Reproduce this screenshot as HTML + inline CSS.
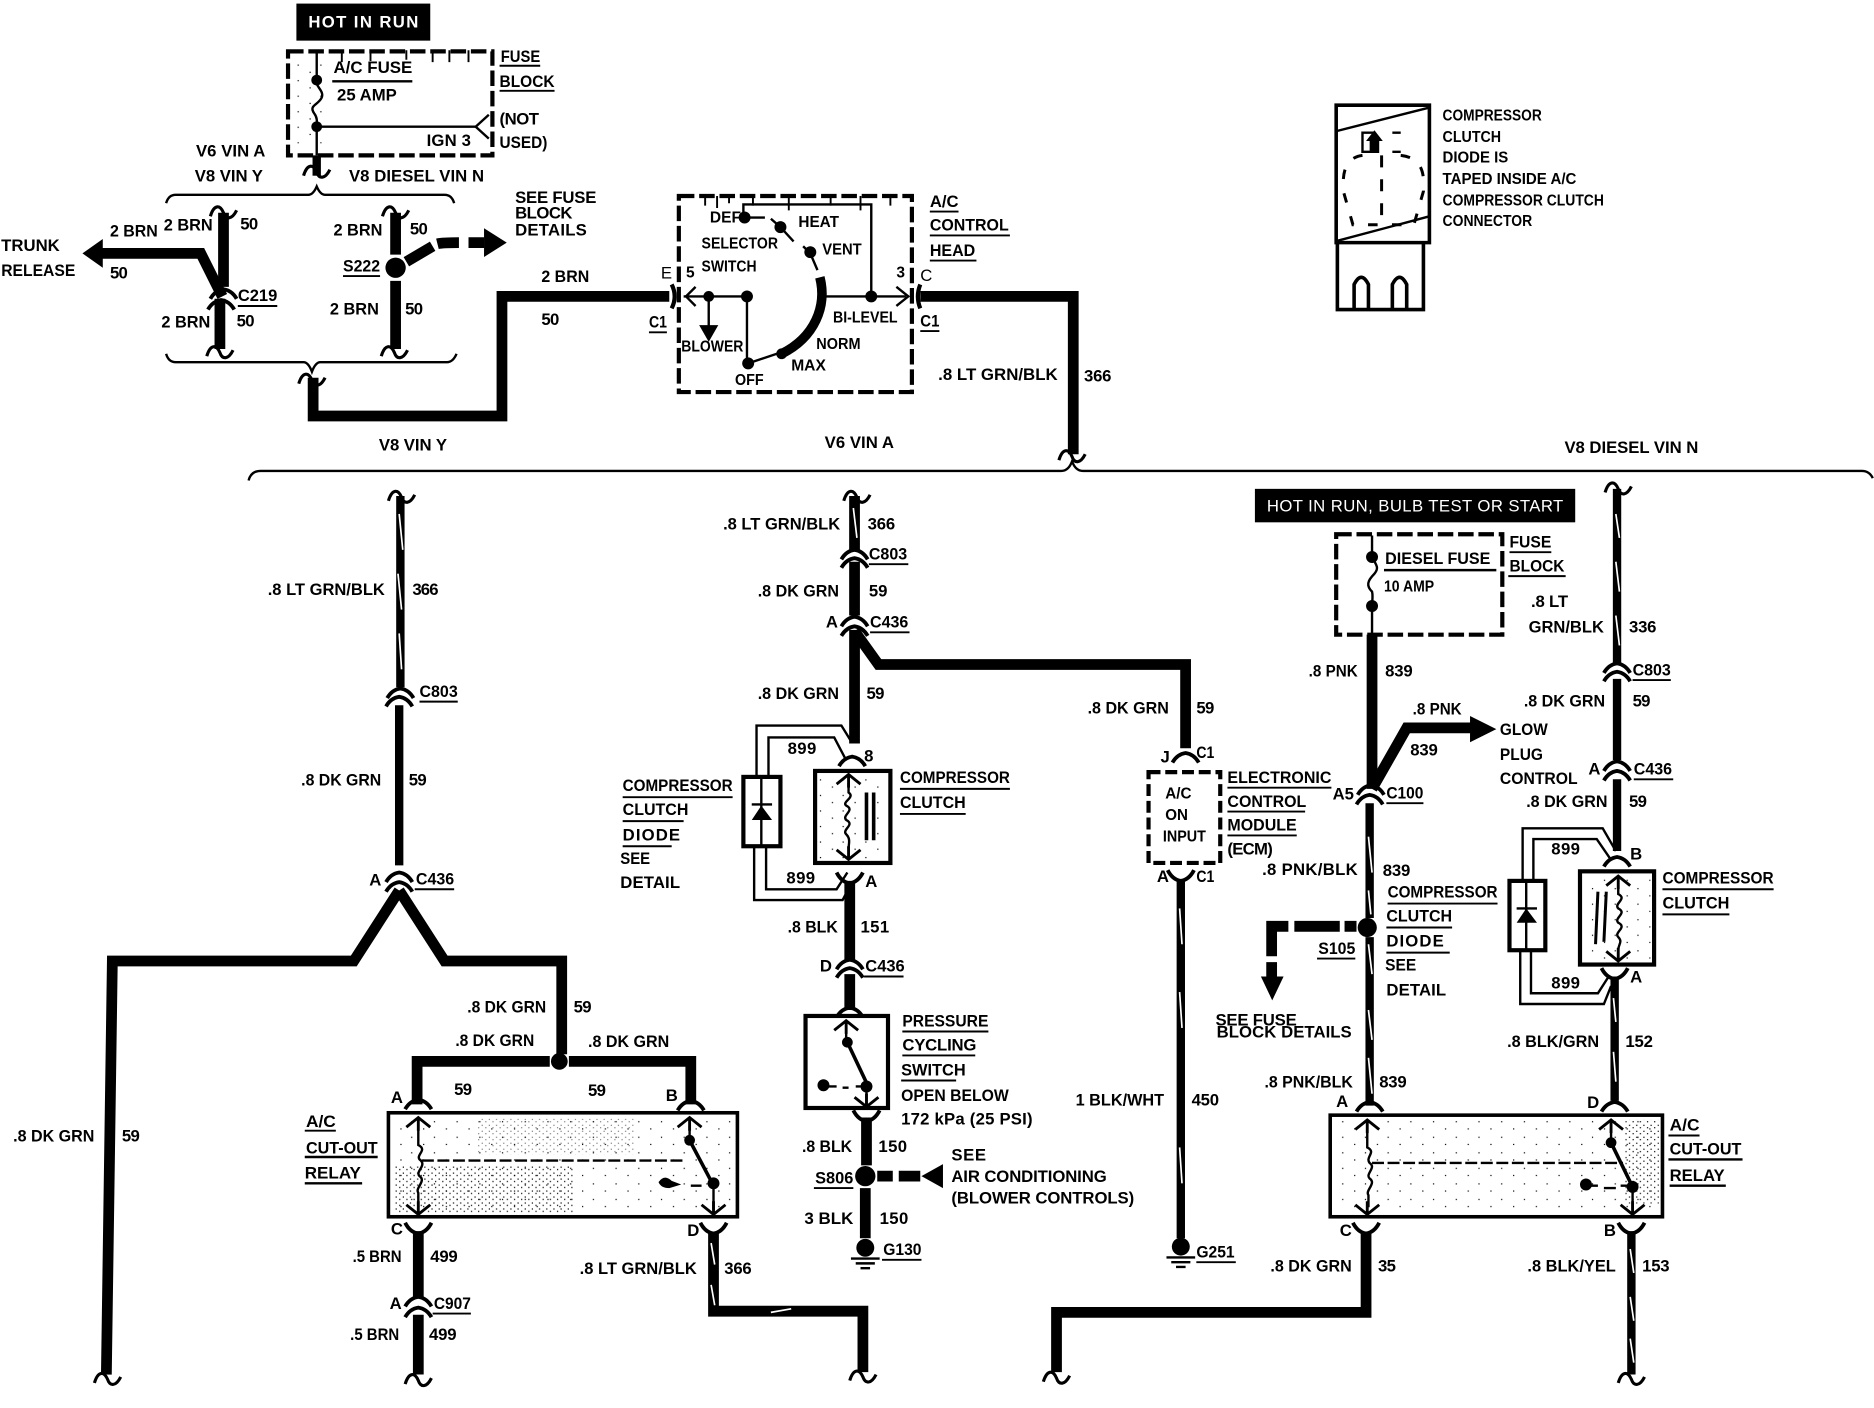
<!DOCTYPE html>
<html><head><meta charset="utf-8"><title>A/C wiring diagram</title>
<style>
html,body{margin:0;padding:0;background:#fff}
svg{display:block}
text{font-family:"Liberation Sans",sans-serif;font-weight:bold;font-size:14px;fill:#000;stroke:none}
.s{font-size:13px}
.wt{fill:#fff}
.r{font-weight:normal}
path,line,rect,circle,polyline{stroke:#000;fill:none}
.w{stroke-width:9}
.m{stroke-width:7}
.t{stroke-width:2}
.u{stroke-width:1.6}
.d{stroke-width:3.5;stroke-dasharray:13 4}
.f{fill:#000;stroke:none}
.st{stroke:#fff;stroke-width:1.4}
</style></head><body>
<svg width="1874" height="1408" viewBox="0 0 1568 1178" preserveAspectRatio="none" xmlns="http://www.w3.org/2000/svg">
<defs>
<path id="ar" d="M-11,5 Q-7,-2 0,-3 Q7,-2 11,5" stroke-width="3.2"/>
<path id="ad" d="M-11,-6 Q-7,2 0,3 Q7,2 11,-6" stroke-width="3.2"/>
<path id="br" d="M-11,5 C-8,-5 -3,-5 0,2 C2,8 7,8 11,0" stroke-width="2.6"/>
<path id="ua" d="M-10,7 L0,-1 L10,7 M0,-1 L0,10" stroke-width="2.4"/>
<path id="da" d="M-10,-7 L0,1 L10,-7 M0,1 L0,-10" stroke-width="2.4"/>
<pattern id="sp" width="19" height="13" patternUnits="userSpaceOnUse"><rect x="2" y="2" width="1" height="1" class="f"/><rect x="12" y="8" width="1" height="1" class="f"/></pattern>
<pattern id="sp2" width="6" height="5" patternUnits="userSpaceOnUse"><rect x="1" y="1" width="1" height="1" class="f"/><rect x="4" y="3" width="1" height="1" class="f"/></pattern>
</defs>

<!-- HOT IN RUN -->
<rect x="248" y="3" width="112" height="31" class="f"/>
<text x="258" y="23" class="wt" textLength="92">HOT IN RUN</text>

<!-- top fuse block -->
<rect x="241" y="43" width="171" height="87" class="d"/>
<path class="u" d="M286,42v10M310,42v9M340,42v8M362,42v10M376,42v10M392,42v10"/>
<path class="t" d="M265,43V67M265,106V130M265,106H398"/>
<path class="t" d="M265,67C263,72 272,76 269,82C266,88 258,88 263,95C266,99 265,103 265,106"/>
<circle cx="265" cy="67" r="4.5" class="f"/><circle cx="265" cy="106" r="4.5" class="f"/>
<path class="t" d="M409,96L398,106L409,116"/>
<rect x="245" y="50" width="30" height="70" style="stroke:none;fill:url(#sp)"/>
<text x="279" y="61" textLength="66" lengthAdjust="spacingAndGlyphs">A/C FUSE</text>
<line x1="278" y1="68" x2="345" y2="68" class="t"/>
<text x="282" y="84" textLength="50" lengthAdjust="spacingAndGlyphs">25 AMP</text>
<text x="357" y="122" textLength="37">IGN 3</text>
<text x="419" y="52" textLength="33" lengthAdjust="spacingAndGlyphs">FUSE</text><line x1="418" y1="55" x2="452" y2="55" class="u"/>
<text x="418" y="73" textLength="46" lengthAdjust="spacingAndGlyphs">BLOCK</text><line x1="418" y1="76" x2="464" y2="76" class="u"/>
<text x="418" y="104" textLength="33">(NOT</text>
<text x="418" y="124" textLength="40" lengthAdjust="spacingAndGlyphs">USED)</text>
<path class="m" d="M265,130V147"/>
<use href="#br" x="265" y="142" stroke="#000" fill="none"/>
<text x="164" y="131" textLength="58">V6 VIN A</text>
<text x="163" y="152" textLength="57">V8 VIN Y</text>
<text x="292" y="152" textLength="113">V8 DIESEL VIN N</text>

<!-- upper brace -->
<path class="t" d="M139,170Q141,163 147,163H258Q262,163 265,156Q268,163 272,163H372Q378,163 380,170"/>
<!-- lower brace -->
<path class="t" d="M139,296Q141,303 147,303H254Q258,303 261,311Q264,303 268,303H374Q379,303 382,296"/>

<!-- trunk release -->
<path class="w" d="M187,178V240"/>
<use href="#br" x="187" y="176" stroke="#000" fill="none"/>
<path class="w" d="M84,212H168L186,248"/>
<path class="f" d="M69,212L86,200V224Z"/>
<use href="#ar" x="187" y="245" stroke="#000" fill="none"/>
<use href="#ar" x="185" y="254" stroke="#000" fill="none"/>
<path class="w" d="M184,250V292"/>
<use href="#br" x="184" y="293" stroke="#000" fill="none"/>
<text x="92" y="198" textLength="40" lengthAdjust="spacingAndGlyphs">2 BRN</text>
<text x="137" y="193" textLength="41" lengthAdjust="spacingAndGlyphs">2 BRN</text>
<text x="201" y="192" textLength="15">50</text>
<text x="1" y="210" textLength="49" lengthAdjust="spacingAndGlyphs">TRUNK</text>
<text x="1" y="231" textLength="62" lengthAdjust="spacingAndGlyphs">RELEASE</text>
<text x="92" y="233" textLength="15">50</text>
<text x="199" y="252" textLength="33" lengthAdjust="spacingAndGlyphs">C219</text><line x1="199" y1="256" x2="232" y2="256" class="u"/>
<text x="198" y="273" textLength="15">50</text>
<text x="135" y="274" textLength="41" lengthAdjust="spacingAndGlyphs">2 BRN</text>

<!-- S222 -->
<path class="w" d="M331,178V213M331,235V292"/>
<use href="#br" x="331" y="176" stroke="#000" fill="none"/>
<use href="#br" x="330" y="293" stroke="#000" fill="none"/>
<circle cx="331" cy="224" r="8.5" class="f"/>
<path class="w" d="M340,219L362,206M366,204Q370,203 384,203M392,203H405"/>
<path class="f" d="M424,203L405,191V215Z"/>
<text x="279" y="197" textLength="41" lengthAdjust="spacingAndGlyphs">2 BRN</text>
<text x="343" y="196" textLength="15">50</text>
<text x="287" y="227" textLength="31" lengthAdjust="spacingAndGlyphs">S222</text><line x1="287" y1="231" x2="318" y2="231" class="u"/>
<text x="276" y="263" textLength="41" lengthAdjust="spacingAndGlyphs">2 BRN</text>
<text x="339" y="263" textLength="15">50</text>
<text x="431" y="170" textLength="68">SEE FUSE</text>
<text x="431" y="183" textLength="48">BLOCK</text>
<text x="431" y="197" textLength="60">DETAILS</text>

<!-- wire to control head -->
<use href="#br" x="261" y="316" stroke="#000" fill="none"/>
<path class="w" d="M262,316V348H420V248H560"/>
<text x="453" y="236" textLength="40" lengthAdjust="spacingAndGlyphs">2 BRN</text>
<text x="453" y="272" textLength="15">50</text>
<text x="317" y="377" textLength="57">V8 VIN Y</text>

<!-- control head -->
<rect x="568" y="164" width="195" height="164" class="d"/>
<path class="u" d="M590,164v8M600,164v10M610,164v6M630,164v8M660,164v12M695,164v8M720,164v12M745,164v8"/>
<path d="M562,238Q567,248 562,258" stroke-width="3.5"/>
<path d="M770,238Q766,248 770,258" stroke-width="3.5"/>
<path class="t" d="M572,248H625M593,248V278M625,248V304M689,248H758M622,182V171H729V248"/>
<path class="t" d="M582,240L574,248L582,256M750,240L760,248L750,256"/>
<path class="f" d="M593,286L585,272H601Z"/>
<circle cx="593" cy="248" r="4.5" class="f"/><circle cx="625" cy="248" r="5" class="f"/><circle cx="729" cy="248" r="5" class="f"/>
<circle cx="626" cy="304" r="5" class="f"/>
<path class="t" d="M626,304L650,296M623,182H640M645,183L653,190L664,202M672,206L678,212L684,226"/>
<circle cx="623" cy="182" r="5" class="f"/><circle cx="653" cy="190" r="5" class="f"/><circle cx="678" cy="211" r="5" class="f"/>
<path d="M686,232C692,256 682,282 654,296" stroke-width="8"/>
<circle cx="654" cy="296" r="4.5" class="f"/>
<text x="594" y="186" textLength="26" class="s" lengthAdjust="spacingAndGlyphs">DEF</text>
<text x="668" y="190" textLength="34" class="s" lengthAdjust="spacingAndGlyphs">HEAT</text>
<text x="587" y="208" textLength="64" class="s" lengthAdjust="spacingAndGlyphs">SELECTOR</text>
<text x="587" y="227" textLength="46" class="s" lengthAdjust="spacingAndGlyphs">SWITCH</text>
<text x="688" y="213" textLength="33" class="s" lengthAdjust="spacingAndGlyphs">VENT</text>
<text x="697" y="270" textLength="54" class="s" lengthAdjust="spacingAndGlyphs">BI-LEVEL</text>
<text x="683" y="292" textLength="37" class="s" lengthAdjust="spacingAndGlyphs">NORM</text>
<text x="662" y="310" textLength="29" class="s" lengthAdjust="spacingAndGlyphs">MAX</text>
<text x="615" y="322" textLength="24" class="s" lengthAdjust="spacingAndGlyphs">OFF</text>
<text x="570" y="294" textLength="52" class="s" lengthAdjust="spacingAndGlyphs">BLOWER</text>
<text x="553" y="233" class="r">E</text><text x="574" y="232" class="s">5</text>
<text x="750" y="232" class="s">3</text><text x="770" y="235" class="r">C</text>
<text x="543" y="274" textLength="15" lengthAdjust="spacingAndGlyphs">C1</text><line x1="543" y1="278" x2="558" y2="278" class="u"/>
<text x="770" y="273" textLength="16" lengthAdjust="spacingAndGlyphs">C1</text><line x1="770" y1="277" x2="786" y2="277" class="u"/>
<text x="778" y="173" textLength="24" lengthAdjust="spacingAndGlyphs">A/C</text><line x1="778" y1="177" x2="802" y2="177" class="u"/>
<text x="778" y="193" textLength="66" lengthAdjust="spacingAndGlyphs">CONTROL</text><line x1="778" y1="197" x2="845" y2="197" class="u"/>
<text x="778" y="214" textLength="38" lengthAdjust="spacingAndGlyphs">HEAD</text><line x1="778" y1="218" x2="817" y2="218" class="u"/>
<path class="w" d="M770,248H898V380"/>
<use href="#br" x="897" y="380" stroke="#000" fill="none"/>
<text x="785" y="318" textLength="100" lengthAdjust="spacingAndGlyphs">.8 LT GRN/BLK</text>
<text x="907" y="319" textLength="23">366</text>
<text x="690" y="375" textLength="58">V6 VIN A</text>
<text x="1309" y="379" textLength="112">V8 DIESEL VIN N</text>

<!-- long brace -->
<path class="t" d="M208,402Q210,394 218,394H888Q894,394 897,386Q900,394 906,394H1558Q1564,394 1567,400"/>

<!-- Column 1 -->
<use href="#br" x="336" y="414" stroke="#000" fill="none"/>
<path class="m" d="M335,415V575M334,590V724"/>
<path class="st" d="M334,430L337,460M333,480L336,510M334,530L336,560"/>
<use href="#ar" x="335" y="579" stroke="#000" fill="none"/>
<use href="#ar" x="334" y="586" stroke="#000" fill="none"/>
<use href="#ar" x="334" y="733" stroke="#000" fill="none"/>
<use href="#ar" x="334" y="741" stroke="#000" fill="none"/>
<path class="w" d="M334,745L296,804H94L89,1150"/>
<path class="w" d="M334,745L372,804H470V882"/>
<use href="#br" x="90" y="1152" stroke="#000" fill="none"/>
<text x="224" y="498" textLength="98" lengthAdjust="spacingAndGlyphs">.8 LT GRN/BLK</text>
<text x="345" y="498" textLength="22">366</text>
<text x="351" y="583" textLength="32" lengthAdjust="spacingAndGlyphs">C803</text><line x1="351" y1="587" x2="383" y2="587" class="u"/>
<text x="252" y="657" textLength="67" lengthAdjust="spacingAndGlyphs">.8 DK GRN</text>
<text x="342" y="657" textLength="15">59</text>
<text x="309" y="741">A</text>
<text x="348" y="740" textLength="32" lengthAdjust="spacingAndGlyphs">C436</text><line x1="347" y1="744" x2="380" y2="744" class="u"/>
<text x="11" y="955" textLength="68" lengthAdjust="spacingAndGlyphs">.8 DK GRN</text>
<text x="102" y="955" textLength="15">59</text>
<text x="391" y="847" textLength="66" lengthAdjust="spacingAndGlyphs">.8 DK GRN</text>
<text x="480" y="847" textLength="15">59</text>
<text x="381" y="875" textLength="66" lengthAdjust="spacingAndGlyphs">.8 DK GRN</text>
<text x="492" y="876" textLength="68" lengthAdjust="spacingAndGlyphs">.8 DK GRN</text>
<text x="380" y="916" textLength="15">59</text>
<text x="492" y="917" textLength="15">59</text>
<text x="327" y="923">A</text><text x="557" y="921">B</text>

<!-- left relay -->
<path class="w" d="M349,924V888H460M476,888H578V924"/>
<circle cx="468" cy="888" r="7" class="f"/>
<use href="#ar" x="350" y="923" stroke="#000" fill="none"/>
<use href="#ar" x="578" y="924" stroke="#000" fill="none"/>
<rect x="325" y="931" width="292" height="87" stroke-width="3"/>
<rect x="328" y="934" width="286" height="81" style="stroke:none;fill:url(#sp)"/>
<rect x="330" y="975" width="150" height="40" style="stroke:none;fill:url(#sp2)"/>
<rect x="400" y="936" width="130" height="30" style="stroke:none;fill:url(#sp2);opacity:.5"/>
<use href="#ua" x="350" y="936" stroke="#000" fill="none"/>
<use href="#da" x="350" y="1015" stroke="#000" fill="none"/>
<path class="t" d="M350,942V958C358,962 348,966 351,970C358,975 347,980 351,984C357,988 347,994 350,998V1010"/>
<path class="t" stroke-dasharray="10 3" d="M353,971H574"/>
<use href="#ua" x="577" y="936" stroke="#000" fill="none"/>
<path class="t" d="M577,942V954M597,990V1012"/>
<path stroke-width="3" d="M577,954L596,990"/>
<circle cx="577" cy="954" r="4.5" class="f"/><circle cx="597" cy="990" r="5" class="f"/>
<path class="f" d="M551,989Q556,982 562,988L570,991L560,994Q553,994 551,989Z"/>
<path class="t" d="M578,992H587"/>
<use href="#da" x="597" y="1015" stroke="#000" fill="none"/>
<text x="256" y="943" textLength="25" lengthAdjust="spacingAndGlyphs">A/C</text><line x1="255" y1="946" x2="281" y2="946" class="u"/>
<text x="256" y="965" textLength="60" lengthAdjust="spacingAndGlyphs">CUT-OUT</text><line x1="255" y1="968" x2="316" y2="968" class="t"/>
<text x="255" y="986" textLength="47" lengthAdjust="spacingAndGlyphs">RELAY</text><line x1="255" y1="990" x2="303" y2="990" class="t"/>
<use href="#ad" x="350" y="1029" stroke="#000" fill="none"/>
<use href="#ad" x="597" y="1029" stroke="#000" fill="none"/>
<text x="327" y="1033">C</text><text x="575" y="1034">D</text>
<path class="w" d="M350,1030V1086M350,1100V1150"/>
<use href="#ar" x="350" y="1088" stroke="#000" fill="none"/>
<use href="#ar" x="350" y="1097" stroke="#000" fill="none"/>
<use href="#br" x="350" y="1153" stroke="#000" fill="none"/>
<text x="295" y="1056" textLength="41" lengthAdjust="spacingAndGlyphs">.5 BRN</text><text x="360" y="1056" textLength="23">499</text>
<text x="326" y="1095">A</text>
<text x="363" y="1095" textLength="31" lengthAdjust="spacingAndGlyphs">C907</text><line x1="362" y1="1099" x2="394" y2="1099" class="u"/>
<text x="293" y="1121" textLength="41" lengthAdjust="spacingAndGlyphs">.5 BRN</text><text x="359" y="1121" textLength="23">499</text>
<path class="w" d="M597,1032V1097H722V1148"/>
<use href="#br" x="722" y="1150" stroke="#000" fill="none"/>
<path class="st" d="M595,1040L598,1058M595,1075L598,1092M645,1098L662,1095"/>
<text x="485" y="1066" textLength="98" lengthAdjust="spacingAndGlyphs">.8 LT GRN/BLK</text><text x="606" y="1066" textLength="23">366</text>

<!-- Column 2 -->
<use href="#br" x="717" y="414" stroke="#000" fill="none"/>
<path class="w" d="M715,415V460M715,470V515M715,527V622"/>
<path class="w" d="M715,528L735,556H992V626"/>
<path class="st" d="M714,425L717,450"/>
<use href="#ar" x="715" y="463" stroke="#000" fill="none"/>
<use href="#ar" x="715" y="470" stroke="#000" fill="none"/>
<use href="#ar" x="715" y="519" stroke="#000" fill="none"/>
<use href="#ar" x="715" y="527" stroke="#000" fill="none"/>
<text x="605" y="443" textLength="98" lengthAdjust="spacingAndGlyphs">.8 LT GRN/BLK</text><text x="726" y="443" textLength="23">366</text>
<text x="727" y="468" textLength="32" lengthAdjust="spacingAndGlyphs">C803</text><line x1="727" y1="472" x2="760" y2="472" class="u"/>
<text x="634" y="499" textLength="68" lengthAdjust="spacingAndGlyphs">.8 DK GRN</text><text x="727" y="499">59</text>
<text x="691" y="525">A</text>
<text x="728" y="525" textLength="32" lengthAdjust="spacingAndGlyphs">C436</text><line x1="728" y1="529" x2="761" y2="529" class="u"/>
<text x="634" y="585" textLength="68" lengthAdjust="spacingAndGlyphs">.8 DK GRN</text><text x="725" y="585" textLength="15">59</text>

<!-- diode + clutch 1 -->
<path class="t" d="M633,650V607H704L712,620"/>
<path class="t" d="M643,650V617H698L708,636"/>
<path class="t" d="M631,708V753H705L712,740"/>
<path class="t" d="M641,708V744H700L709,730"/>
<rect x="622" y="650" width="31" height="58" stroke-width="3.5"/>
<path class="t" d="M637,650V708"/><path class="t" d="M629,673H646"/>
<path class="f" d="M637,674L629,686H646Z"/>
<use href="#ar" x="713" y="636" stroke="#000" fill="none"/>
<rect x="682" y="645" width="63" height="77" stroke-width="3.5"/>
<rect x="685" y="648" width="57" height="71" style="stroke:none;fill:url(#sp)"/>
<use href="#ua" x="710" y="649" stroke="#000" fill="none"/>
<use href="#da" x="710" y="718" stroke="#000" fill="none"/>
<path class="t" d="M710,655V663C716,667 704,671 708,674C716,678 704,682 708,686C716,690 704,694 708,698C712,702 710,706 710,710"/>
<path d="M725,663V703M731,663V703" stroke-width="3"/>
<use href="#ad" x="711" y="736" stroke="#000" fill="none"/>
<path class="w" d="M711,737V803M711,815V845"/>
<use href="#ar" x="711" y="806" stroke="#000" fill="none"/>
<use href="#ar" x="711" y="813" stroke="#000" fill="none"/>
<use href="#ar" x="711" y="846" stroke="#000" fill="none"/>
<text x="659" y="631" textLength="24">899</text><text x="658" y="739" textLength="24">899</text>
<text x="723" y="637">8</text><text x="724" y="742">A</text>
<text x="521" y="662" textLength="92" lengthAdjust="spacingAndGlyphs">COMPRESSOR</text><line x1="521" y1="667" x2="613" y2="667" class="u"/>
<text x="521" y="682" textLength="55" lengthAdjust="spacingAndGlyphs">CLUTCH</text><line x1="521" y1="687" x2="572" y2="687" class="u"/>
<text x="521" y="703" textLength="48">DIODE</text><line x1="521" y1="708" x2="562" y2="708" class="u"/>
<text x="519" y="723" textLength="25" lengthAdjust="spacingAndGlyphs">SEE</text>
<text x="519" y="743" textLength="50">DETAIL</text>
<text x="753" y="655" textLength="92" lengthAdjust="spacingAndGlyphs">COMPRESSOR</text><line x1="753" y1="660" x2="845" y2="660" class="u"/>
<text x="753" y="676" textLength="55" lengthAdjust="spacingAndGlyphs">CLUTCH</text><line x1="753" y1="681" x2="808" y2="681" class="u"/>
<text x="659" y="780" textLength="42" lengthAdjust="spacingAndGlyphs">.8 BLK</text><text x="720" y="780" textLength="24">151</text>
<text x="686" y="813">D</text>
<text x="724" y="813" textLength="33" lengthAdjust="spacingAndGlyphs">C436</text><line x1="723" y1="817" x2="756" y2="817" class="u"/>

<!-- pressure switch -->
<rect x="674" y="850" width="69" height="77" stroke-width="3.5"/>
<use href="#ua" x="708" y="855" stroke="#000" fill="none"/>
<path class="t" d="M708,860V872" /><path stroke-width="3" d="M709,872L726,908"/>
<circle cx="709" cy="872" r="4.5" class="f"/><circle cx="725" cy="909" r="5" class="f"/><circle cx="689" cy="908" r="5" class="f"/>
<path class="t" d="M693,909H700M705,910H710M716,909H722M725,912V924"/>
<use href="#da" x="725" y="925" stroke="#000" fill="none"/>
<use href="#ad" x="725" y="935" stroke="#000" fill="none"/>
<path class="w" d="M725,935V975M724,994V1036"/>
<circle cx="724" cy="984" r="8.5" class="f"/>
<path class="w" d="M734,984H747M752,984H770"/>
<path class="f" d="M771,984L789,974V994Z"/>
<circle cx="724" cy="1044" r="7.5" class="f"/>
<path class="t" d="M712,1053H736M716,1057H732M720,1061H728"/>
<text x="755" y="859" textLength="72" lengthAdjust="spacingAndGlyphs">PRESSURE</text><line x1="755" y1="863" x2="827" y2="863" class="u"/>
<text x="755" y="879" textLength="62">CYCLING</text><line x1="755" y1="883" x2="816" y2="883" class="u"/>
<text x="754" y="900" textLength="54" lengthAdjust="spacingAndGlyphs">SWITCH</text><line x1="754" y1="904" x2="800" y2="904" class="u"/>
<text x="754" y="921" textLength="90" lengthAdjust="spacingAndGlyphs">OPEN BELOW</text>
<text x="754" y="941" textLength="110">172 kPa (25 PSI)</text>
<text x="671" y="964" textLength="42" lengthAdjust="spacingAndGlyphs">.8 BLK</text><text x="735" y="964" textLength="24">150</text>
<text x="682" y="990" textLength="32" lengthAdjust="spacingAndGlyphs">S806</text><line x1="681" y1="994" x2="714" y2="994" class="u"/>
<text x="673" y="1024" textLength="41" lengthAdjust="spacingAndGlyphs">3 BLK</text><text x="736" y="1024" textLength="24">150</text>
<text x="739" y="1050" textLength="32" lengthAdjust="spacingAndGlyphs">G130</text><line x1="738" y1="1054" x2="771" y2="1054" class="u"/>
<text x="796" y="971" textLength="29">SEE</text>
<text x="796" y="989" textLength="130">AIR CONDITIONING</text>
<text x="796" y="1007" textLength="153">(BLOWER CONTROLS)</text>

<!-- ECM -->
<use href="#ar" x="992" y="633" stroke="#000" fill="none"/>
<text x="910" y="597" textLength="68" lengthAdjust="spacingAndGlyphs">.8 DK GRN</text><text x="1001" y="597" textLength="15">59</text>
<rect x="961" y="646" width="60" height="76" stroke-width="3.5" stroke-dasharray="10 4"/>
<text x="971" y="638">J</text><text x="1001" y="634" textLength="15" lengthAdjust="spacingAndGlyphs">C1</text>
<text x="975" y="668" class="s" textLength="22" lengthAdjust="spacingAndGlyphs">A/C</text>
<text x="975" y="686" class="s" textLength="19" lengthAdjust="spacingAndGlyphs">ON</text>
<text x="973" y="704" class="s" textLength="36" lengthAdjust="spacingAndGlyphs">INPUT</text>
<text x="1027" y="655" textLength="87" lengthAdjust="spacingAndGlyphs">ELECTRONIC</text><line x1="1027" y1="659" x2="1114" y2="659" class="u"/>
<text x="1027" y="675" textLength="66" lengthAdjust="spacingAndGlyphs">CONTROL</text><line x1="1027" y1="679" x2="1092" y2="679" class="u"/>
<text x="1027" y="695" textLength="58" lengthAdjust="spacingAndGlyphs">MODULE</text><line x1="1027" y1="699" x2="1085" y2="699" class="u"/>
<text x="1027" y="715" textLength="38">(ECM)</text>
<text x="968" y="738">A</text><text x="1001" y="738" textLength="15" lengthAdjust="spacingAndGlyphs">C1</text>
<use href="#ad" x="988" y="734" stroke="#000" fill="none"/>
<path class="m" d="M988,736V1036"/>
<path class="st" d="M987,760L989,790M987,830L989,860M987,960L989,990"/>
<circle cx="988" cy="1043" r="7.5" class="f"/>
<path class="t" d="M976,1052H1000M980,1056H996M984,1060H992"/>
<text x="900" y="925" textLength="74" lengthAdjust="spacingAndGlyphs">1 BLK/WHT</text><text x="997" y="925" textLength="23">450</text>
<text x="1001" y="1052" textLength="32" lengthAdjust="spacingAndGlyphs">G251</text><line x1="1001" y1="1056" x2="1034" y2="1056" class="u"/>

<!-- Bottom wire -->
<path class="w" d="M884,1148V1098H1143V1032"/>
<use href="#br" x="884" y="1151" stroke="#000" fill="none"/>

<!-- right section black box -->
<rect x="1050" y="409" width="268" height="28" class="f"/>
<text x="1060" y="428" class="wt r" textLength="248">HOT IN RUN, BULB TEST OR START</text>
<rect x="1118" y="447" width="139" height="84" class="d"/>
<path class="t" d="M1148,448V465M1148,507V531M1148,465C1150,472 1155,474 1150,480C1144,486 1143,490 1148,495C1149,499 1148,503 1148,507"/>
<circle cx="1148" cy="466" r="5" class="f"/><circle cx="1148" cy="507" r="5" class="f"/>
<text x="1159" y="472" textLength="88" lengthAdjust="spacingAndGlyphs">DIESEL FUSE</text><line x1="1158" y1="477" x2="1252" y2="477" class="t"/>
<text x="1158" y="495" class="s" textLength="42" lengthAdjust="spacingAndGlyphs">10 AMP</text>
<text x="1263" y="458" textLength="35" lengthAdjust="spacingAndGlyphs">FUSE</text><line x1="1263" y1="462" x2="1298" y2="462" class="u"/>
<text x="1263" y="478" textLength="46" lengthAdjust="spacingAndGlyphs">BLOCK</text><line x1="1262" y1="482" x2="1310" y2="482" class="u"/>
<path class="w" d="M1148,531V660"/>
<path class="w" d="M1148,660L1177,609H1232"/>
<path class="f" d="M1252,610L1230,599V621Z"/>
<text x="1095" y="566" textLength="41" lengthAdjust="spacingAndGlyphs">.8 PNK</text><text x="1159" y="566" textLength="23">839</text>
<text x="1182" y="598" textLength="41" lengthAdjust="spacingAndGlyphs">.8 PNK</text><text x="1180" y="632" textLength="23">839</text>
<text x="1255" y="615" textLength="40" lengthAdjust="spacingAndGlyphs">GLOW</text><text x="1255" y="636" textLength="36" lengthAdjust="spacingAndGlyphs">PLUG</text><text x="1255" y="656" textLength="65" lengthAdjust="spacingAndGlyphs">CONTROL</text>
<use href="#ar" x="1147" y="660" stroke="#000" fill="none"/>
<use href="#ar" x="1146" y="668" stroke="#000" fill="none"/>
<text x="1115" y="669">A5</text>
<text x="1160" y="668" textLength="31" lengthAdjust="spacingAndGlyphs">C100</text><line x1="1160" y1="672" x2="1191" y2="672" class="u"/>
<path class="m" d="M1146,672V768M1146,784V925"/>
<path class="st" d="M1145,700L1148,730M1145,745L1147,765M1145,790L1148,815M1145,845L1148,870M1145,885L1148,915"/>
<circle cx="1144" cy="776" r="8" class="f"/>
<path class="w" d="M1125,775H1135M1083,775H1121M1078,775H1064V800M1064,805V818"/>
<path class="f" d="M1064.5,837L1055,817H1074Z"/>
<text x="1056" y="732" textLength="80">.8 PNK/BLK</text><text x="1157" y="733" textLength="23">839</text>
<text x="1161" y="751" textLength="92" lengthAdjust="spacingAndGlyphs">COMPRESSOR</text><line x1="1161" y1="756" x2="1253" y2="756" class="u"/>
<text x="1160" y="771" textLength="55" lengthAdjust="spacingAndGlyphs">CLUTCH</text><line x1="1160" y1="776" x2="1215" y2="776" class="u"/>
<text x="1160" y="792" textLength="48">DIODE</text><line x1="1160" y1="797" x2="1213" y2="797" class="u"/>
<text x="1159" y="812" textLength="26" lengthAdjust="spacingAndGlyphs">SEE</text><text x="1160" y="833" textLength="50">DETAIL</text>
<text x="1103" y="798" textLength="31" lengthAdjust="spacingAndGlyphs">S105</text><line x1="1102" y1="802" x2="1134" y2="802" class="u"/>
<text x="1017" y="858" textLength="68">SEE FUSE</text>
<text x="1018" y="868" textLength="113">BLOCK DETAILS</text>
<text x="1058" y="910" textLength="74" lengthAdjust="spacingAndGlyphs">.8 PNK/BLK</text><text x="1154" y="910" textLength="23">839</text>
<text x="1118" y="926">A</text>
<use href="#ar" x="1146" y="925" stroke="#000" fill="none"/>

<!-- right wire -->
<use href="#br" x="1354" y="407" stroke="#000" fill="none"/>
<path class="m" d="M1353,409V555M1353,568V636M1353,652V712"/>
<path class="st" d="M1352,430L1355,450M1352,470L1355,495M1352,515L1355,540"/>
<use href="#ar" x="1353" y="558" stroke="#000" fill="none"/>
<use href="#ar" x="1353" y="565" stroke="#000" fill="none"/>
<use href="#ar" x="1353" y="640" stroke="#000" fill="none"/>
<use href="#ar" x="1353" y="648" stroke="#000" fill="none"/>
<text x="1281" y="508" textLength="31">.8 LT</text>
<text x="1279" y="529" textLength="63" lengthAdjust="spacingAndGlyphs">GRN/BLK</text>
<text x="1363" y="529" textLength="23">336</text>
<text x="1366" y="565" textLength="32" lengthAdjust="spacingAndGlyphs">C803</text><line x1="1366" y1="569" x2="1398" y2="569" class="u"/>
<text x="1275" y="591" textLength="68" lengthAdjust="spacingAndGlyphs">.8 DK GRN</text><text x="1366" y="591" textLength="15">59</text>
<text x="1329" y="648">A</text>
<text x="1367" y="648" textLength="32" lengthAdjust="spacingAndGlyphs">C436</text><line x1="1367" y1="652" x2="1400" y2="652" class="u"/>
<text x="1277" y="675" textLength="68" lengthAdjust="spacingAndGlyphs">.8 DK GRN</text><text x="1363" y="675" textLength="15">59</text>

<!-- diode + clutch 2 -->
<path class="t" d="M1274,736V693H1341L1352,712"/>
<path class="t" d="M1283,736V702H1336L1347,718"/>
<path class="t" d="M1272,796V840H1342L1348,825"/>
<path class="t" d="M1281,796V831H1337L1346,817"/>
<rect x="1263" y="737" width="30" height="58" stroke-width="3.5"/>
<path class="t" d="M1277,737V795M1269,760H1286"/>
<path class="f" d="M1277,760L1269,772H1286Z"/>
<use href="#ar" x="1353" y="720" stroke="#000" fill="none"/>
<rect x="1322" y="729" width="62" height="78" stroke-width="3.5"/>
<rect x="1325" y="732" width="56" height="72" style="stroke:none;fill:url(#sp)"/>
<use href="#ua" x="1354" y="734" stroke="#000" fill="none"/>
<use href="#da" x="1354" y="803" stroke="#000" fill="none"/>
<path class="t" d="M1354,740V748C1362,752 1350,756 1354,760C1362,764 1350,768 1354,772C1362,776 1350,780 1354,784C1358,788 1354,790 1354,795"/>
<path d="M1335,790L1337,746M1342,788L1344,746" stroke-width="2.5"/>
<use href="#ad" x="1351" y="816" stroke="#000" fill="none"/>
<path class="m" d="M1351,817V921"/>
<path class="st" d="M1350,835L1352,855M1350,880L1352,905"/>
<use href="#ar" x="1351" y="925" stroke="#000" fill="none"/>
<text x="1298" y="715" textLength="24">899</text><text x="1298" y="827" textLength="24">899</text>
<text x="1364" y="719">B</text><text x="1364" y="822">A</text>
<text x="1391" y="739" textLength="93" lengthAdjust="spacingAndGlyphs">COMPRESSOR</text><line x1="1391" y1="744" x2="1484" y2="744" class="u"/>
<text x="1391" y="760" textLength="56" lengthAdjust="spacingAndGlyphs">CLUTCH</text><line x1="1391" y1="765" x2="1447" y2="765" class="u"/>
<text x="1261" y="876" textLength="77" lengthAdjust="spacingAndGlyphs">.8 BLK/GRN</text><text x="1360" y="876" textLength="23">152</text>
<text x="1328" y="927">D</text>

<!-- right relay -->
<rect x="1113" y="933" width="278" height="85" stroke-width="3"/>
<rect x="1116" y="936" width="272" height="79" style="stroke:none;fill:url(#sp)"/>
<rect x="1360" y="937" width="28" height="70" style="stroke:none;fill:url(#sp2)"/>
<use href="#ua" x="1144" y="938" stroke="#000" fill="none"/>
<use href="#da" x="1144" y="1015" stroke="#000" fill="none"/>
<path class="t" d="M1144,944V960C1152,964 1142,968 1146,973C1152,977 1142,982 1146,986C1152,990 1142,996 1145,1000V1010"/>
<path class="t" stroke-dasharray="10 3" d="M1148,973H1358"/>
<use href="#ua" x="1348" y="938" stroke="#000" fill="none"/>
<path class="t" d="M1348,944V956M1366,993V1012"/>
<path stroke-width="3" d="M1348,956L1366,993"/>
<circle cx="1348" cy="956" r="4.5" class="f"/><circle cx="1366" cy="993" r="5" class="f"/><circle cx="1327" cy="991" r="5" class="f"/>
<path class="t" d="M1331,992H1337M1342,994H1352M1356,992H1363"/>
<use href="#da" x="1366" y="1015" stroke="#000" fill="none"/>
<text x="1397" y="946" textLength="25" lengthAdjust="spacingAndGlyphs">A/C</text><line x1="1396" y1="950" x2="1422" y2="950" class="u"/>
<text x="1397" y="966" textLength="60" lengthAdjust="spacingAndGlyphs">CUT-OUT</text><line x1="1396" y1="970" x2="1458" y2="970" class="t"/>
<text x="1397" y="988" textLength="46" lengthAdjust="spacingAndGlyphs">RELAY</text><line x1="1397" y1="992" x2="1444" y2="992" class="t"/>
<use href="#ad" x="1143" y="1029" stroke="#000" fill="none"/>
<use href="#ad" x="1365" y="1029" stroke="#000" fill="none"/>
<text x="1121" y="1034">C</text><text x="1342" y="1034">B</text>
<path class="m" d="M1365,1030V1150"/>
<path class="st" d="M1364,1045L1367,1065M1364,1085L1367,1105M1364,1120L1367,1140"/>
<use href="#br" x="1365" y="1152" stroke="#000" fill="none"/>
<text x="1063" y="1064" textLength="68" lengthAdjust="spacingAndGlyphs">.8 DK GRN</text><text x="1153" y="1064" textLength="15">35</text>
<text x="1278" y="1064" textLength="74" lengthAdjust="spacingAndGlyphs">.8 BLK/YEL</text><text x="1374" y="1064" textLength="23">153</text>

<!-- top-right detail -->
<path stroke-width="3" d="M1118,203V88H1196V203Z"/>
<path class="t" d="M1117,110L1196,90M1117,202L1196,181"/>
<path stroke-width="3" d="M1119,203V259H1191V203"/>
<path stroke-width="3" d="M1133,259V238Q1139,226 1145,238V259M1165,259V238Q1171,226 1177,238V259"/>
<path stroke-width="2.5" stroke-dasharray="8 12" d="M1140,130Q1125,132 1124,150V160L1132,188H1183L1191,160V150Q1190,132 1172,130"/>
<path stroke-width="2.5" stroke-dasharray="10 10" d="M1156,130V188"/>
<path class="t" d="M1150,111H1140V127H1150M1165,111H1172M1165,127H1172"/>
<path class="f" d="M1150,109L1157,118H1154V128H1146V118H1143Z"/>
<text x="1207" y="101" class="s" textLength="83" lengthAdjust="spacingAndGlyphs">COMPRESSOR</text>
<text x="1207" y="119" class="s" textLength="49" lengthAdjust="spacingAndGlyphs">CLUTCH</text>
<text x="1207" y="136" class="s" textLength="55" lengthAdjust="spacingAndGlyphs">DIODE IS</text>
<text x="1207" y="154" class="s" textLength="112" lengthAdjust="spacingAndGlyphs">TAPED INSIDE A/C</text>
<text x="1207" y="172" class="s" textLength="135" lengthAdjust="spacingAndGlyphs">COMPRESSOR CLUTCH</text>
<text x="1207" y="189" class="s" textLength="75" lengthAdjust="spacingAndGlyphs">CONNECTOR</text>
</svg>
</body></html>
